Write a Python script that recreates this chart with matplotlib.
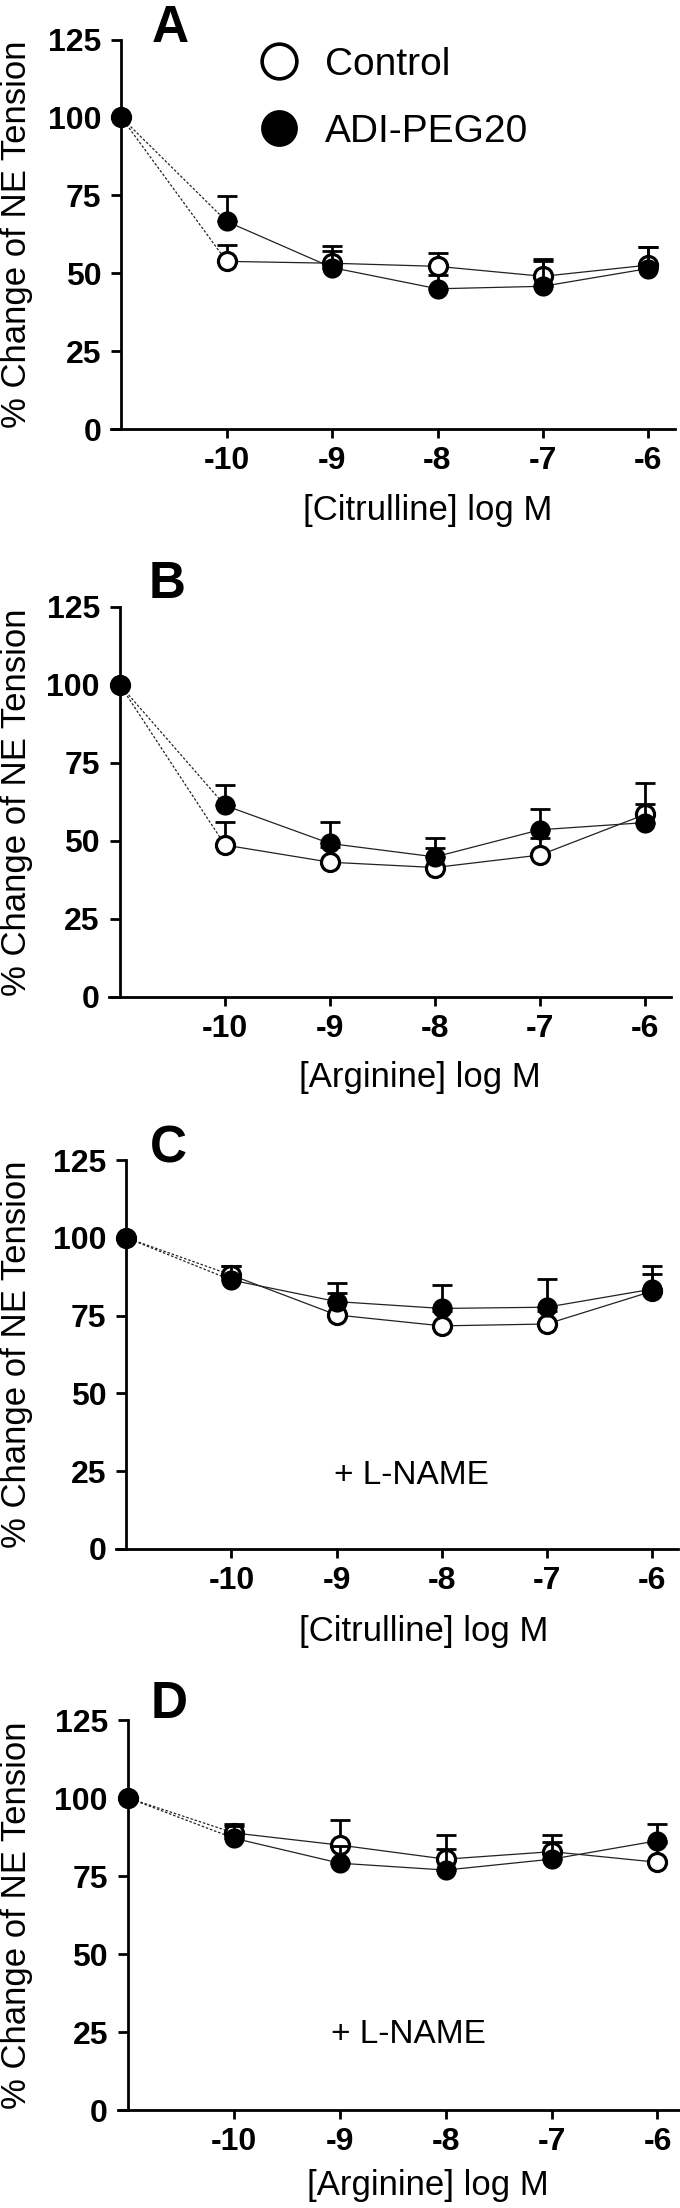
import matplotlib
matplotlib.use("Agg")
import matplotlib.pyplot as plt
import numpy as np

# ---------------- data ----------------
dose = [-11, -10, -9, -8, -7, -6]
xtick_vals = [-10, -9, -8, -7, -6]
xtick_labels = ["-10", "-9", "-8", "-7", "-6"]
ytick_vals = [0, 25, 50, 75, 100, 125]
ytick_labels = ["0", "25", "50", "75", "100", "125"]

series_names = ["Control", "ADI-PEG20"]
panel_letters = ["A", "B", "C", "D"]
x_labels = ["[Citrulline] log M", "[Arginine] log M",
            "[Citrulline] log M", "[Arginine] log M"]
panel_notes = ["", "", "+ L-NAME", "+ L-NAME"]
y_label = "% Change of NE Tension"

# Panel A: citrulline
a_ctrl_mean = [100, 53.8, 53.2, 52.2, 49.0, 52.6]
a_ctrl_sem = [0, 5.3, 5.4, 4.4, 4.9, 5.7]
a_adi_mean = [100, 66.6, 51.8, 45.0, 45.8, 51.5]
a_adi_sem = [0, 8.3, 5.2, 4.5, 8.7, 6.8]
# Panel B: arginine
b_ctrl_mean = [100, 48.7, 43.2, 41.5, 45.5, 58.5]
b_ctrl_sem = [0, 7.5, 4.8, 6.1, 5.4, 3.4]
b_adi_mean = [100, 61.4, 49.2, 44.9, 53.6, 55.9]
b_adi_sem = [0, 6.6, 7.0, 6.0, 6.7, 12.6]
# Panel C: citrulline + L-NAME
c_ctrl_mean = [100, 88.0, 75.2, 71.7, 72.3, 82.8]
c_ctrl_sem = [0, 2.9, 7.2, 4.8, 4.2, 5.5]
c_adi_mean = [100, 86.4, 79.5, 77.3, 77.7, 83.5]
c_adi_sem = [0, 4.5, 5.9, 7.5, 9.0, 7.5]
# Panel D: arginine + L-NAME
d_ctrl_mean = [100, 88.8, 84.9, 80.4, 82.8, 79.4]
d_ctrl_sem = [0, 2.9, 7.9, 7.7, 5.3, 6.1]
d_adi_mean = [100, 87.1, 79.1, 76.9, 80.4, 86.3]
d_adi_sem = [0, 3.9, 5.5, 6.7, 5.6, 5.4]

ctrl_means = [a_ctrl_mean, b_ctrl_mean, c_ctrl_mean, d_ctrl_mean]
ctrl_sems = [a_ctrl_sem, b_ctrl_sem, c_ctrl_sem, d_ctrl_sem]
adi_means = [a_adi_mean, b_adi_mean, c_adi_mean, d_adi_mean]
adi_sems = [a_adi_sem, b_adi_sem, c_adi_sem, d_adi_sem]

# ---------------- layout (pixels) ----------------
W, H = 680, 2208
# (x of -10 tick, x of -6 tick, y of 0, y of 125)
layouts = [(226.7, 648.3, 429, 39.5),
           (225.0, 645.0, 997, 607),
           (231.5, 652.0, 1549, 1160),
           (234.0, 657.5, 2110, 1720)]
letter_pos = [(170, 23), (167, 580), (168, 1144), (169, 1699)]
xlabel_pos = [(428, 511), (420, 1078), (424, 1631), (428, 2185)]
note_pos = [None, None, (411, 1472), (408, 2031)]

XMIN, XMAX = -11.1, -5.75

plt.rcParams["font.family"] = ["Liberation Sans", "DejaVu Sans"]


def fx(px):
    return px / W


def fy(py):
    return 1 - py / H


fig = plt.figure(figsize=(W / 100, H / 100), dpi=100)

for i in range(4):
    xm10, xm6, y0, y125 = layouts[i]
    s = (xm6 - xm10) / 4.0
    left = xm10 + (XMIN + 10) * s
    right = xm10 + (XMAX + 10) * s
    ax = fig.add_axes([fx(left), fy(y0), (right - left) / W, (y0 - y125) / H])
    ax.set_xlim(XMIN, XMAX)
    ax.set_ylim(0, 125)
    ax.patch.set_alpha(0)
    for sp in ["top", "right"]:
        ax.spines[sp].set_visible(False)
    ax.spines["left"].set_position(("data", -11))
    ax.spines["left"].set_linewidth(2.0)
    ax.spines["bottom"].set_linewidth(2.0)
    ax.set_xticks(xtick_vals)
    ax.set_xticklabels(xtick_labels, fontsize=23, fontweight="bold")
    ax.set_yticks(ytick_vals)
    ax.set_yticklabels(ytick_labels, fontsize=23, fontweight="bold")
    ax.tick_params(axis="x", length=6.5, width=2, pad=6, direction="out")
    ax.tick_params(axis="y", length=7.5, width=2, pad=7, direction="out")

    for means, sems, is_ctrl in [(ctrl_means[i], ctrl_sems[i], True),
                                 (adi_means[i], adi_sems[i], False)]:
        # dotted segment from baseline
        ax.plot(dose[:2], means[:2], color="#222222", lw=0.9,
                dashes=(2.0, 1.5), zorder=1, clip_on=False)
        ax.plot(dose[1:], means[1:], color="#222222", lw=0.9, zorder=1,
                clip_on=False)
        lower = np.zeros(len(dose) - 1)
        ax.errorbar(dose[1:], means[1:], yerr=[lower, sems[1:]], fmt="none",
                    ecolor="black", elinewidth=2.0, capsize=7.5, capthick=2.0,
                    zorder=2 if is_ctrl else 4)
        if is_ctrl:
            ax.plot(dose, means, "o", ms=13, mfc="white", mec="black",
                    mew=2.3, zorder=3, clip_on=False, linestyle="none")
        else:
            ax.plot(dose, means, "o", ms=14.5, mfc="black", mec="black",
                    mew=0, zorder=5, clip_on=False, linestyle="none")

    # letter
    lx, ly = letter_pos[i]
    fig.text(fx(lx), fy(ly + 18.5), panel_letters[i], fontsize=37,
             fontweight="bold", ha="center", va="baseline")
    # x label
    xx, xy = xlabel_pos[i]
    fig.text(fx(xx), fy(xy), x_labels[i], fontsize=25, ha="center",
             va="center")
    # y label
    fig.text(fx(17), fy((y0 + y125) / 2), y_label, fontsize=25,
             rotation=90, ha="center", va="center")
    # note
    if note_pos[i] is not None:
        nx, ny = note_pos[i]
        fig.text(fx(nx), fy(ny + 12), panel_notes[i], fontsize=24,
                 ha="center", va="baseline")

# legend (panel A)
leg_x, leg_y = 278.5, [61, 128]
axl = fig.add_axes([0, 0, 1, 1])
axl.set_xlim(0, W)
axl.set_ylim(H, 0)
axl.axis("off")
axl.plot([leg_x], [leg_y[0]], "o", ms=25, mfc="white", mec="black", mew=2.6)
axl.plot([leg_x], [leg_y[1]], "o", ms=26.5, mfc="black", mec="black", mew=0)
for name, yy in zip(series_names, leg_y):
    axl.text(325, yy + 14, name, fontsize=28, ha="left", va="baseline")

fig.savefig("out.png", dpi=100)
